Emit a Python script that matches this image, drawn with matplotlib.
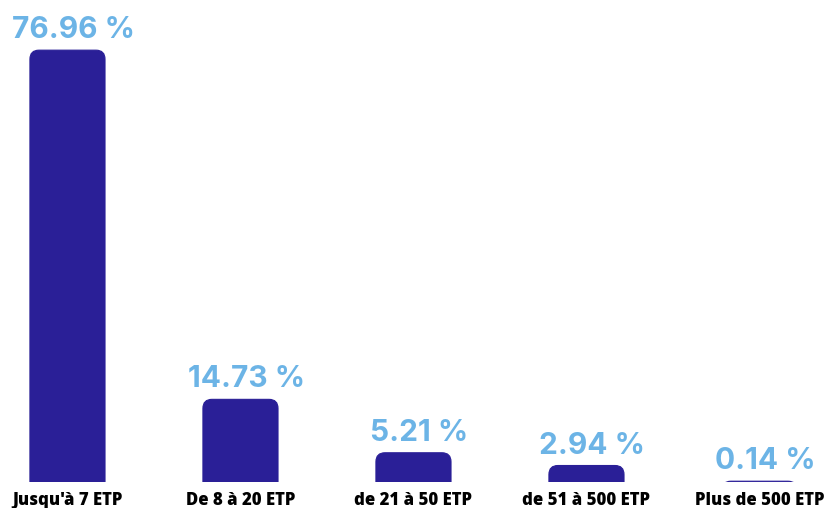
import matplotlib.pyplot as plt
from matplotlib.patches import FancyBboxPatch

# Data
categories = ["Jusqu'à 7 ETP", "De 8 à 20 ETP", "de 21 à 50 ETP", "de 51 à 500 ETP", "Plus de 500 ETP"]
shares = [76.96, 14.73, 5.21, 2.94, 0.14]

bar_color = "#2a1f97"
label_color = "#6cb4e6"

fig = plt.figure(figsize=(8.24, 5.08), dpi=100)
ax = fig.add_axes([0, 26 / 508, 1, 482 / 508])
ax.set_xlim(-0.39, 4.373)
ax.set_ylim(0, 85.9)

bar_w = 0.434
# px per unit along x and y, used to keep corners round
px_x = 824 / (4.373 + 0.39)
px_y = 482 / 85.9
for i, v in enumerate(shares):
    box = FancyBboxPatch((i - bar_w / 2, -4), bar_w, v + 4,
                         boxstyle="round,pad=0,rounding_size=%f" % (9 / px_x),
                         mutation_aspect=px_x / px_y,
                         facecolor=bar_color, edgecolor=bar_color, linewidth=0.8,
                         clip_on=True)
    ax.add_patch(box)
    ax.text(i + 6 / px_x, v + 12 / px_y, f"{v:.2f} %", ha="center", va="baseline",
            color=label_color, fontsize=21.5, fontweight="bold", family="Inter")

ax.set_xticks(range(len(categories)))
ax.set_xticklabels(categories, fontsize=12.1, fontweight="heavy", family="Open Sans")
ax.tick_params(axis="x", length=0, pad=7)
ax.set_yticks([])
for s in ax.spines.values():
    s.set_visible(False)

fig.savefig("out.png", dpi=100)
